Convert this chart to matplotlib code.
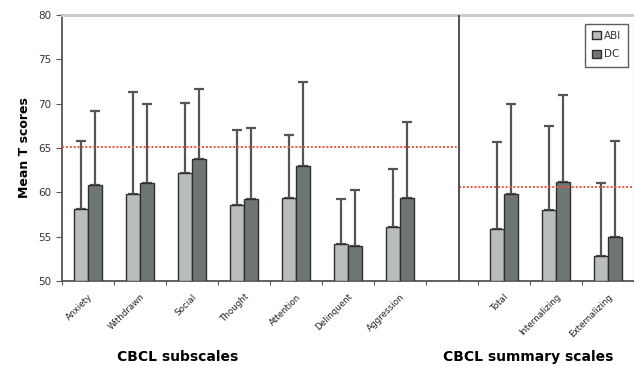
import matplotlib.pyplot as plt
from matplotlib.patches import Patch
import numpy as np

# categories (empty string = spacer slot between the two groups)
categories = ['Anxiety', 'Withdrawn', 'Social', 'Thought', 'Attention', 'Delinquent',
              'Aggression', '', 'Total', 'Internalizing', 'Externalizing']
abi_mean = [58.1, 59.8, 62.2, 58.6, 59.4, 54.2, 56.1, None, 55.9, 58.0, 52.8]
abi_top = [65.8, 71.3, 70.1, 67.0, 66.5, 59.3, 62.6, None, 65.7, 67.5, 61.0]
dc_mean = [60.8, 61.0, 63.8, 59.3, 63.0, 54.0, 59.4, None, 59.8, 61.2, 55.0]
dc_top = [69.2, 70.0, 71.6, 67.3, 72.4, 60.3, 67.9, None, 70.0, 71.0, 65.8]
cutoff_sub = 65.1
cutoff_sum = 60.6

abi_col = '#b9bdbd'
dc_col = '#6f7676'
edge = '#2e2e2e'

fig = plt.figure(figsize=(6.34, 3.66), dpi=100)
ax = fig.add_axes([62 / 634, 1 - 281 / 366, 572 / 634, 266 / 366])

w = 0.27
for i, c in enumerate(categories):
    if abi_mean[i] is None:
        continue
    xa = i + 0.5 - w / 2
    xd = i + 0.5 + w / 2
    ax.bar(xa, abi_mean[i] - 50, width=w, bottom=50, color=abi_col, edgecolor=edge, lw=1.0, zorder=3)
    ax.bar(xd, dc_mean[i] - 50, width=w, bottom=50, color=dc_col, edgecolor=edge, lw=1.0, zorder=3)
    for x, m, t in [(xa, abi_mean[i], abi_top[i]), (xd, dc_mean[i], dc_top[i])]:
        ax.errorbar(x, m, yerr=[[0], [t - m]], fmt='none', ecolor='#555555',
                    elinewidth=1.6, capsize=3.5, capthick=1.6, zorder=2)

div = 7.63
ax.plot([0, div], [cutoff_sub, cutoff_sub], color='#f0503c', ls=(0, (1, 1)), lw=1.4, zorder=4)
ax.plot([div, 11], [cutoff_sum, cutoff_sum], color='#f0503c', ls=(0, (1, 1)), lw=1.4, zorder=4)
ax.axvline(div, color='#444444', lw=1.3, zorder=4)

ax.set_xlim(0, 11)
ax.set_ylim(50, 80)
ax.set_yticks(np.arange(50, 81, 5))
ax.set_xticks(np.arange(0, 12, 1), minor=False)
ax.set_xticklabels([])
ax.set_xticks(np.arange(11) + 0.5, minor=True)
ax.set_xticklabels(categories, minor=True, rotation=45, ha='right',
                   fontsize=6.3, color='#222222', rotation_mode='anchor')
ax.tick_params(axis='x', which='minor', length=0, pad=8)
ax.tick_params(axis='x', which='major', length=3, color='#555555', direction='out')
ax.tick_params(axis='y', length=4, color='#555555', labelsize=7.5, labelcolor='#333333')

for s in ['left', 'bottom']:
    ax.spines[s].set_color('#555555')
    ax.spines[s].set_linewidth(1.3)
ax.spines['top'].set_color('#c8c8c8')
ax.spines['top'].set_linewidth(2)
ax.spines['right'].set_color('#c8c8c8')
ax.spines['right'].set_linewidth(1)

ax.set_ylabel('Mean T scores', fontsize=9, fontweight='bold', labelpad=5)

handles = [Patch(facecolor=abi_col, edgecolor=edge, label='ABI'),
           Patch(facecolor=dc_col, edgecolor=edge, label='DC')]
leg = ax.legend(handles=handles, loc='upper right', fontsize=7.5, handlelength=0.8, handleheight=0.8,
                handletextpad=0.3, fancybox=False, edgecolor='#333333', borderpad=0.7,
                borderaxespad=0, labelspacing=0.8, bbox_to_anchor=(0.99, 0.967))
leg.get_frame().set_linewidth(1.0)
for t in leg.get_texts():
    t.set_color('#333333')

fig.text(178 / 634, 1 - 357 / 366, 'CBCL subscales', ha='center', va='center', fontsize=10, fontweight='bold')
fig.text(528 / 634, 1 - 357 / 366, 'CBCL summary scales', ha='center', va='center', fontsize=10, fontweight='bold')

fig.savefig('out.png', dpi=100)
